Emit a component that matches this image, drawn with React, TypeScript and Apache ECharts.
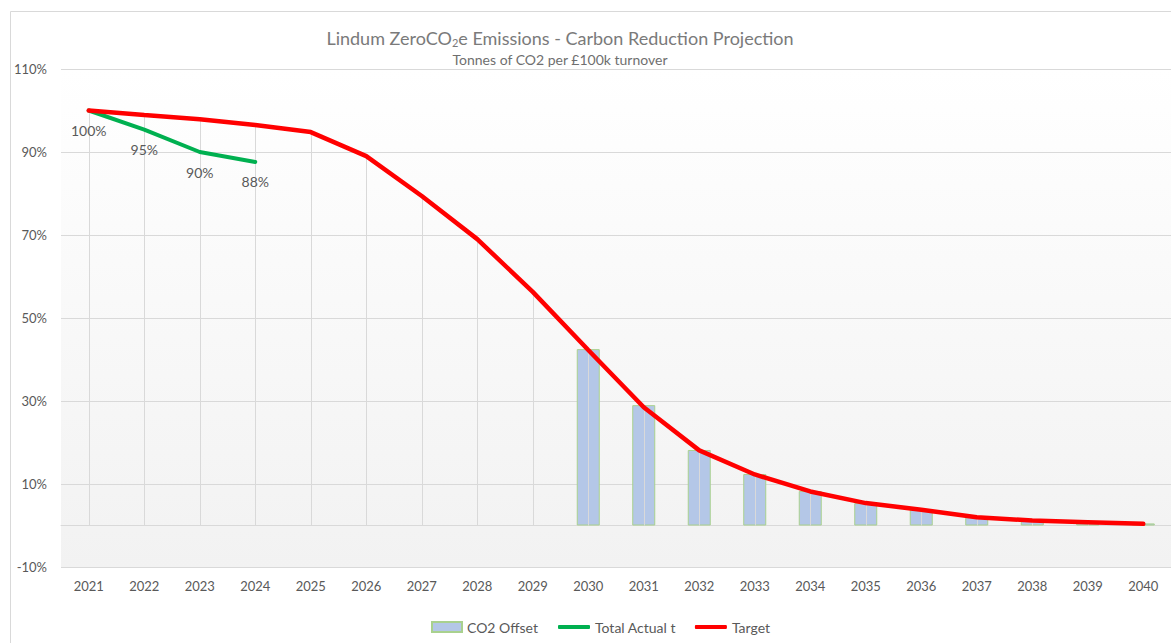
import React, { useEffect, useRef } from "react";
import * as echarts from "echarts";

const years = ["2021","2022","2023","2024","2025","2026","2027","2028","2029","2030","2031","2032","2033","2034","2035","2036","2037","2038","2039","2040"];
const co2Offset = [null,null,null,null,null,null,null,null,null,42.5,29,18.2,12.4,8.3,5.4,3.8,2,1.2,0.8,0.5];
const totalActual = [100,95.4,90,87.6];
const target = [100,98.9,97.9,96.5,94.8,89,79.4,69,56.3,42.3,28.5,18.1,12.3,8.2,5.4,3.8,2,1.2,0.8,0.4];
const yTicks = { min: -10, max: 110, interval: 20 };

const FONT = "Lato, 'Open Sans', sans-serif";
const TXT = "#595959";
const GRID = "#d9d9d9";

export default function App() {
  const ref = useRef<HTMLDivElement>(null);
  useEffect(() => {
    if (!ref.current) return;
    const chart = echarts.init(ref.current, null, { renderer: "svg" });
    chart.setOption({
      animation: false,
      backgroundColor: "#ffffff",
      textStyle: { fontFamily: FONT },
      graphic: [
        { type: "rect", z: -10, silent: true, shape: { x: 10.5, y: 11.5, width: 1200, height: 700 }, style: { fill: "none", stroke: GRID, lineWidth: 1 } },
        {
          type: "text", x: 560, y: 38, silent: true,
          style: {
            text: "Lindum ZeroCO{sub|2}e Emissions - Carbon Reduction Projection",
            rich: { sub: { fontSize: 11, padding: [8, 0, 0, 0], fill: "#7a7a7a", fontFamily: FONT } },
            fill: "#7a7a7a", font: `18px ${FONT}`, align: "center", verticalAlign: "middle",
          },
        },
        {
          type: "text", x: 560, y: 59, silent: true,
          style: { text: "Tonnes of CO2 per £100k turnover", fill: "#6f6f6f", font: `14px ${FONT}`, align: "center", verticalAlign: "middle" },
        },
      ],
      legend: [
        {
          left: 426, top: 615,
          itemWidth: 30, itemHeight: 10, itemGap: 19,
          textStyle: { color: TXT, fontSize: 14, fontFamily: FONT },
          data: [{ name: "CO2 Offset", icon: "rect" }],
        },
        {
          left: 553, top: 615,
          itemWidth: 32, itemHeight: 4, itemGap: 19,
          textStyle: { color: TXT, fontSize: 14, fontFamily: FONT },
          data: [
            { name: "Total Actual t", icon: "roundRect" },
            { name: "Target", icon: "roundRect" },
          ],
        },
      ],
      grid: {
        left: 61, top: 69, width: 1114, height: 498,
        show: true, borderWidth: 0,
        backgroundColor: new echarts.graphic.LinearGradient(0, 0, 0, 1, [
          { offset: 0, color: "#ffffff" },
          { offset: 1, color: "#f2f2f2" },
        ]),
      },
      xAxis: {
        type: "category",
        data: years,
        axisLine: { onZero: true, lineStyle: { color: GRID, width: 1 } },
        axisTick: { show: false },
        axisLabel: { color: TXT, fontSize: 13, margin: 12, fontFamily: FONT },
        splitLine: { show: false },
      },
      yAxis: {
        type: "value",
        min: yTicks.min, max: yTicks.max, interval: yTicks.interval,
        axisLine: { show: false },
        axisTick: { show: false },
        axisLabel: { color: TXT, fontSize: 13, margin: 14, formatter: "{value}%", fontFamily: FONT },
        splitLine: { lineStyle: { color: GRID, width: 1 } },
      },
      series: [
        {
          name: "CO2 Offset",
          type: "bar",
          data: co2Offset,
          barWidth: 23,
          z: 2,
          itemStyle: { color: "#b4c7e7", borderColor: "#a9d18e", borderWidth: 1 },
        },
        {
          name: "dropLines",
          type: "custom",
          z: 3,
          silent: true,
          data: target.map((v, i) => [i, v]),
          encode: { x: 0, y: 1 },
          renderItem: (params: any, api: any) => {
            const p = api.coord([api.value(0), api.value(1)]);
            const b = api.coord([api.value(0), 0]);
            return {
              type: "line",
              shape: { x1: Math.round(p[0]) + 0.5, y1: p[1], x2: Math.round(b[0]) + 0.5, y2: b[1] },
              style: { stroke: GRID, lineWidth: 1 },
            };
          },
        },
        {
          name: "Total Actual t",
          type: "line",
          data: totalActual,
          symbol: "circle",
          symbolSize: 0,
          showSymbol: true,
          z: 4,
          lineStyle: { color: "#00b050", width: 4, cap: "round" },
          itemStyle: { color: "#00b050" },
          label: {
            show: true, position: "bottom", distance: 13,
            color: TXT, fontSize: 14, fontFamily: FONT,
            formatter: (p: any) => Math.round(p.value) + "%",
          },
          labelLayout: { hideOverlap: false },
        },
        {
          name: "Target",
          type: "line",
          data: target,
          symbol: "none",
          z: 5,
          lineStyle: { color: "#ff0000", width: 4.5, cap: "round" },
          itemStyle: { color: "#ff0000" },
        },
      ],
    });
    return () => chart.dispose();
  }, []);
  return <div ref={ref} style={{ position: "absolute", left: 0, top: 0, width: 1171, height: 643 }} />;
}
